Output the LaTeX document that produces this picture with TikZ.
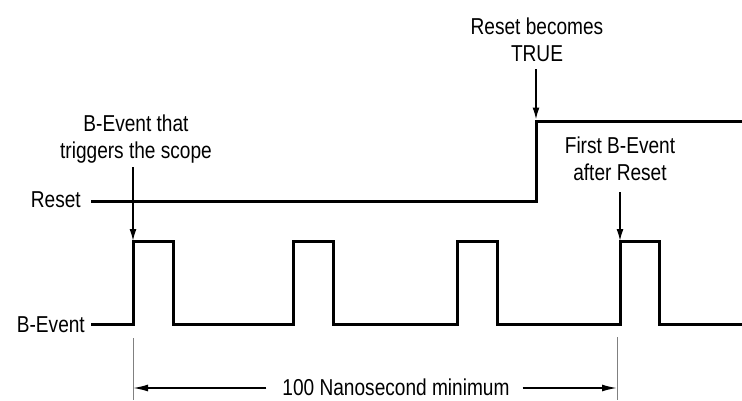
\documentclass[tikz,border=0pt]{standalone}
\usepackage{fontspec}
\setmainfont{Liberation Sans}[FakeStretch=0.83]
\usetikzlibrary{arrows.meta}
\begin{document}
\begin{tikzpicture}[x=1pt,y=-1pt,
  font=\fontsize{23}{27}\selectfont,
  sig/.style={line width=3pt, line join=miter, line cap=rect},
  callout/.style={line width=1.6pt, -{Latex[length=12pt,width=7pt]}},
  dimarrow/.style={line width=1.6pt, -{Latex[length=15pt,width=7pt]}},
  tickline/.style={line width=1pt, draw=black!50},
  lbl/.style={inner sep=0pt, align=center}]
\useasboundingbox (0,0) rectangle (742,400);

% labels
\node[lbl, anchor=east] (rstlbl) at (81,200) {Reset};
\node[lbl, anchor=east] (evlbl) at (85,325) {B-Event};
\node[lbl] (trig) at (136,139) {B-Event that\\triggers the scope};
\node[lbl] (rtrue) at (537,40) {Reset becomes\\TRUE};
\node[lbl] (first) at (620,159) {First B-Event\\after Reset};
\node[lbl] (dimlbl) at (396,387) {100 Nanosecond minimum};

% Reset signal
\coordinate (r0) at (92,201);
\coordinate (r1) at (536,201);
\coordinate (r2) at (536,121);
\coordinate (r3) at (742,121);
\draw[sig] (r0) -- (r1) -- (r2) -- (r3);

% B-Event signal
\coordinate (e0) at (92,324);
\coordinate (p1) at (133,241);
\coordinate (p4) at (620,241);
\draw[sig] (e0) -- (133,324) -- (p1) -- (173,241) -- (173,324)
  -- (293,324) -- (293,241) -- (333,241) -- (333,324)
  -- (457,324) -- (457,241) -- (497,241) -- (497,324)
  -- (620,324) -- (p4) -- (659,241) -- (659,324) -- (742,324);

% callout arrows
\coordinate (a1) at (133,167);
\coordinate (a2) at (536,69);
\coordinate (a3) at (620,192);
\draw[callout] (a1) -- (p1);
\draw[callout] (a2) -- ([yshift=1.5pt]r2);
\draw[callout] (a3) -- (p4);

% dimension
\coordinate (t1a) at (133,338);
\coordinate (t1b) at (133,400);
\coordinate (t2a) at (617,337);
\coordinate (t2b) at (617,400);
\draw[tickline] (t1a) -- (t1b);
\draw[tickline] (t2a) -- (t2b);
\coordinate (d1) at (133,388);
\coordinate (d2) at (617,388);
\draw[dimarrow, shorten <=16pt] (dimlbl.west |- d1) -- (d1);
\draw[dimarrow, shorten <=13pt] (dimlbl.east |- d2) -- (d2);
\end{tikzpicture}
\end{document}
